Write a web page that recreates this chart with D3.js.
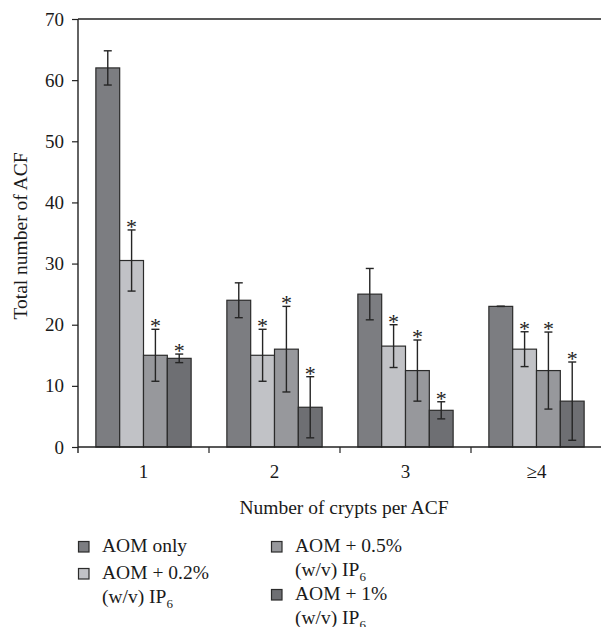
<!DOCTYPE html>
<html>
<head>
<meta charset="utf-8">
<script src="https://cdn.jsdelivr.net/npm/d3@7"></script>
<style>
  body { margin: 0; background: #fff; }
  svg { display: block; font-family: "Liberation Serif", "DejaVu Serif", serif; }
</style>
</head>
<body>
<div id="chart"></div>
<script>
// data
const categories = ["1", "2", "3", "\u22654"];
const seriesKeys = ["aom", "ip02", "ip05", "ip1"];
const aomOnly = [62, 24, 25, 23];
const aomOnlyErr = [2.8, 2.85, 4.2, 0];
const ip02 = [30.5, 15, 16.5, 16];
const ip02Err = [5, 4.25, 3.5, 2.85];
const ip05 = [15, 16, 12.5, 12.5];
const ip05Err = [4.25, 7, 5, 6.3];
const ip1 = [14.5, 6.5, 6, 7.5];
const ip1Err = [0.7, 5, 1.4, 6.4];
const significant = [false, true, true, true]; // asterisk per series
const yTicks = [0, 10, 20, 30, 40, 50, 60, 70];

const width = 601;
const height = 627;
const plotLeft = 78, plotRight = 602, plotTop = 19, plotBottom = 447;

const colors = {
    aom: "#7c7d81",
    ip02: "#c1c2c6",
    ip05: "#97989c",
    ip1: "#6e6f73"
};

const values = { aom: aomOnly, ip02: ip02, ip05: ip05, ip1: ip1 };
const errors = { aom: aomOnlyErr, ip02: ip02Err, ip05: ip05Err, ip1: ip1Err };

const rows = [];
categories.forEach((c, i) => {
    seriesKeys.forEach((k, j) => {
        rows.push({ cat: c, key: k, value: values[k][i], err: errors[k][i], star: significant[j] });
    });
});

const svg = d3.select("#chart")
    .append("svg")
    .attr("width", width)
    .attr("height", height);

const x0 = d3.scaleBand()
    .domain(categories)
    .range([plotLeft, plotRight]);

const x1 = d3.scaleBand()
    .domain(seriesKeys)
    .range([0, x0.bandwidth()])
    .paddingOuter(0.75);

const y = d3.scaleLinear()
    .domain([0, 70])
    .range([plotBottom, plotTop]);

// bars
svg.append("g")
    .selectAll("rect")
    .data(rows)
    .join("rect")
    .attr("x", d => x0(d.cat) + x1(d.key))
    .attr("y", d => y(d.value))
    .attr("width", x1.bandwidth())
    .attr("height", d => y(0) - y(d.value))
    .attr("fill", d => colors[d.key])
    .attr("stroke", "#2b2b2b")
    .attr("stroke-width", 1.2);

// error bars
const eb = svg.append("g")
    .attr("stroke", "#252525")
    .attr("stroke-width", 1.4)
    .selectAll("g")
    .data(rows)
    .join("g")
    .attr("transform", d => `translate(${x0(d.cat) + x1(d.key) + x1.bandwidth() / 2},0)`);

eb.append("line")
    .attr("y1", d => y(d.value + d.err))
    .attr("y2", d => y(d.value - d.err));
eb.append("line")
    .attr("x1", -4).attr("x2", 4)
    .attr("y1", d => y(d.value + d.err))
    .attr("y2", d => y(d.value + d.err));
eb.append("line")
    .attr("x1", -4).attr("x2", 4)
    .attr("y1", d => y(d.value - d.err))
    .attr("y2", d => y(d.value - d.err));

// significance stars
svg.append("g")
    .selectAll("text")
    .data(rows.filter(d => d.star))
    .join("text")
    .attr("x", d => x0(d.cat) + x1(d.key) + x1.bandwidth() / 2)
    .attr("y", d => y(d.value + d.err) + 4)
    .attr("text-anchor", "middle")
    .attr("font-size", 22)
    .attr("fill", "#222")
    .text("*");

// frame top line (plot continues past right edge)
svg.append("line")
    .attr("x1", plotLeft).attr("x2", width)
    .attr("y1", y(70)).attr("y2", y(70))
    .attr("stroke", "#222")
    .attr("stroke-width", 1.4);

// y axis
const yAxis = svg.append("g")
    .attr("transform", `translate(${plotLeft},0)`)
    .call(d3.axisLeft(y).tickValues(yTicks).tickSize(6).tickPadding(8));
yAxis.select(".domain").remove();
yAxis.append("line")
    .attr("y1", y(70)).attr("y2", plotBottom + 6)
    .attr("stroke", "#222").attr("stroke-width", 1.4);
yAxis.selectAll(".tick line").attr("stroke", "#222").attr("stroke-width", 1.2);
yAxis.selectAll(".tick text")
    .attr("font-family", "Liberation Serif")
    .attr("font-size", 19)
    .attr("fill", "#1a1a1a");

// x axis: ticks sit on band boundaries
const xAxisLine = svg.append("g");
xAxisLine.append("line")
    .attr("x1", plotLeft).attr("x2", width)
    .attr("y1", plotBottom).attr("y2", plotBottom)
    .attr("stroke", "#222").attr("stroke-width", 1.4);
xAxisLine.selectAll("line.tk")
    .data(categories.slice(1))
    .join("line")
    .attr("class", "tk")
    .attr("x1", d => x0(d)).attr("x2", d => x0(d))
    .attr("y1", plotBottom).attr("y2", plotBottom + 6)
    .attr("stroke", "#222").attr("stroke-width", 1.2);
xAxisLine.selectAll("text")
    .data(categories)
    .join("text")
    .attr("x", d => x0(d) + x0.bandwidth() / 2)
    .attr("y", 478)
    .attr("text-anchor", "middle")
    .attr("font-size", 19)
    .attr("fill", "#1a1a1a")
    .text(d => d);

// axis titles
svg.append("text")
    .attr("x", 344)
    .attr("y", 514)
    .attr("text-anchor", "middle")
    .attr("font-size", 19.5)
    .attr("fill", "#1a1a1a")
    .text("Number of crypts per ACF");

svg.append("text")
    .attr("transform", "translate(27,236) rotate(-90)")
    .attr("text-anchor", "middle")
    .attr("font-size", 19.5)
    .attr("fill", "#1a1a1a")
    .text("Total number of ACF");

// legend
const legendItems = [
    { key: "aom", x: 78, y: 552, lines: ["AOM only"] },
    { key: "ip02", x: 78, y: 579, lines: ["AOM + 0.2%", "(w/v) IP"] },
    { key: "ip05", x: 271, y: 552, lines: ["AOM + 0.5%", "(w/v) IP"] },
    { key: "ip1", x: 271, y: 600, lines: ["AOM + 1%", "(w/v) IP"] }
];

const lg = svg.append("g")
    .selectAll("g")
    .data(legendItems)
    .join("g")
    .attr("transform", d => `translate(${d.x},${d.y})`);

lg.append("rect")
    .attr("x", 0.5)
    .attr("y", -10.5)
    .attr("width", 10.5)
    .attr("height", 10.5)
    .attr("fill", d => colors[d.key])
    .attr("stroke", "#2b2b2b")
    .attr("stroke-width", 1.2);

lg.each(function (d) {
    const g = d3.select(this);
    d.lines.forEach((line, i) => {
        const t = g.append("text")
            .attr("x", 24)
            .attr("y", i * 24)
            .attr("font-size", 19.5)
            .attr("fill", "#1a1a1a")
            .text(line);
        if (i === 1) {
            t.append("tspan")
                .attr("dy", 5)
                .attr("font-size", 13)
                .text("6");
        }
    });
});
</script>
</body>
</html>
